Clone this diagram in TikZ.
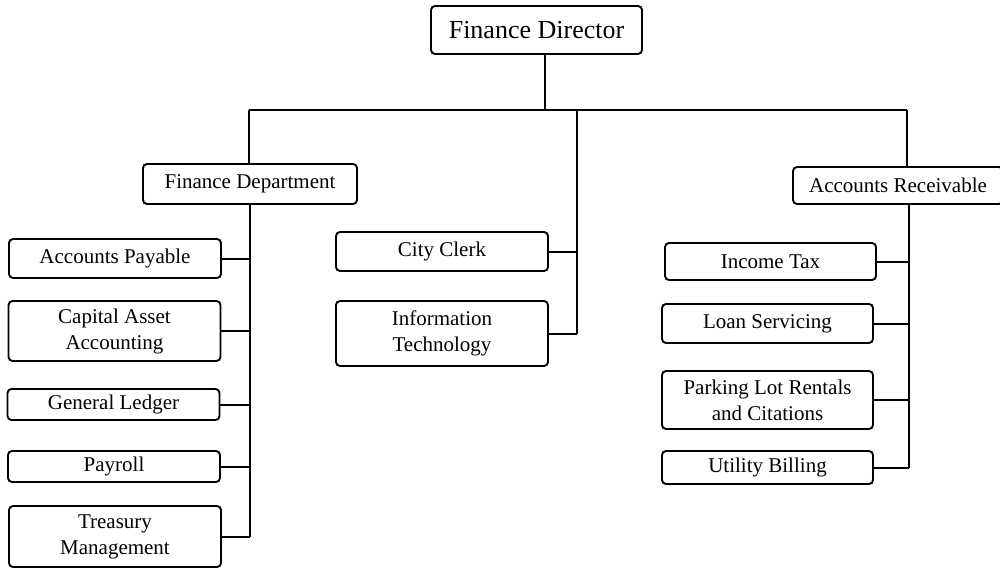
\documentclass[tikz,border=0pt]{standalone}
\usepackage{fontspec}
\setmainfont{Liberation Serif}
\usepackage{tikz}
\usetikzlibrary{positioning,calc}
\tikzset{
  unit/.style={draw, line width=1.9pt, rounded corners=4pt, align=center,
    inner sep=0pt, minimum width=212pt, font=\fontsize{21}{26}\selectfont},
  wire/.style={line width=2pt}
}

\begin{document}
\begin{tikzpicture}[x=1pt, y=-1pt]
  \useasboundingbox (0,0) rectangle (1000,569);
  \node[unit, minimum width=211pt, minimum height=48pt, font=\fontsize{26}{30}\selectfont] (dir) at (536.5,30) {Finance Director};
  \node[unit, minimum width=214pt, minimum height=40pt] (fd) at (250,184) {Finance Department};
  \node[unit, minimum width=210pt, minimum height=37pt] (ar) at (898,185.5) {Accounts Receivable};
  % left column
  \foreach \n/\x/\y/\h/\t in {ap/115/258.5/39/{Accounts Payable},
                              caa/114.5/331/60/{Capital Asset\\Accounting},
                              gl/113.5/404.5/31/{General Ledger},
                              pay/114/466.5/31/{Payroll},
                              tm/115/536.5/61/{Treasury\\Management}}
     \node[unit, minimum height=\h pt] (\n) at (\x,\y) {\t};
  % middle column
  \foreach \n/\y/\h/\t in {cc/251.5/39/{City Clerk},
                           itech/333.5/65/{Information\\Technology}}
     \node[unit, minimum height=\h pt] (\n) at (442,\y) {\t};
  % right column
  \foreach \n/\x/\y/\h/\t in {inc/770.5/261.5/37/{Income Tax},
                              ls/767.5/323.5/39/{Loan Servicing},
                              pl/767.5/400/58/{Parking Lot Rentals\\and Citations},
                              ub/767.5/467.5/33/{Utility Billing}}
     \node[unit, minimum width=211pt, minimum height=\h pt] (\n) at (\x,\y) {\t};

  \coordinate (busD) at (545,110);
  \coordinate (busL) at (249,110);
  \coordinate (busM) at (577,110);
  \coordinate (busR) at (907,110);
  \coordinate (rs) at (909,203);
  \draw[wire] (busD |- dir.south) -- (busD);
  \draw[wire] (busL) -- (busR);
  \draw[wire] (busL) -- (busL |- fd.north);
  \draw[wire] (busR) -- (busR |- ar.north);
  \draw[wire] (busM) -- (busM |- itech.east);
  \draw[wire] (fd.south) -- (fd.south |- tm.east);
  \draw[wire] (rs) -- (rs |- ub.east);
  \foreach \n in {ap,caa,gl,pay,tm}
     \draw[wire] (\n.east) -- (\n.east -| fd.south);
  \foreach \n in {cc,itech}
     \draw[wire] (\n.east) -- (\n.east -| busM);
  \foreach \n in {inc,ls,pl,ub}
     \draw[wire] (\n.east) -- (\n.east -| rs);
\end{tikzpicture}
\end{document}
